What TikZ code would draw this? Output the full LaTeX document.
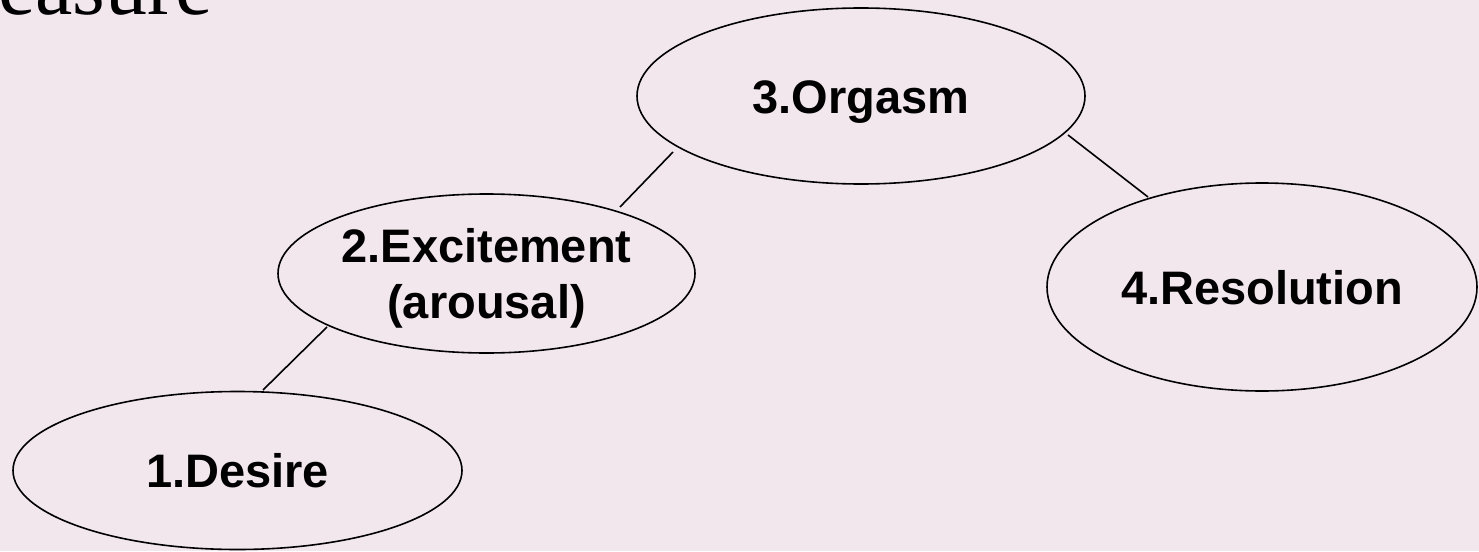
\documentclass[tikz,border=0pt]{standalone}
\usepackage{fontspec}
\setmainfont{Liberation Sans}
\newfontfamily\serifface{Liberation Serif}
\usetikzlibrary{shapes.geometric}
\definecolor{bgpink}{RGB}{243,231,238}
\begin{document}
\begin{tikzpicture}[x=1pt,y=-1pt,
  phase/.style={ellipse, draw=black, line width=1.6pt, inner sep=0pt,
    font=\bfseries\fontsize{47}{56}\selectfont, text height=34pt, text depth=0pt, align=center},
  link/.style={line width=1.6pt, draw=black}]
\fill[bgpink] (0,0) rectangle (1479,551);
\useasboundingbox (0,0) rectangle (1479,551);
\clip (0,0) rectangle (1479,551);
\node[font=\serifface\fontsize{84}{84}\selectfont, inner sep=0pt, anchor=base east] (title) at (213,15) {easure};
\node[phase, minimum width=448pt, minimum height=176pt] (orgasm) at (861,96) {3.Orgasm};
\node[phase, minimum width=417pt, minimum height=159pt, text height=90pt] (excite) at (486.5,273.5) {2.Excitement\\(arousal)};
\node[phase, minimum width=430pt, minimum height=208pt] (resol) at (1262,287) {4.Resolution};
\node[phase, minimum width=449pt, minimum height=158pt] (desire) at (237.5,470.5) {1.Desire};
\coordinate (oe1) at (673,152); \coordinate (oe2) at (620,207);
\coordinate (or1) at (1068,135); \coordinate (or2) at (1148,197);
\coordinate (ed1) at (327,327); \coordinate (ed2) at (263,390);
\draw[link] (oe1) -- (oe2);
\draw[link] (or1) -- (or2);
\draw[link] (ed1) -- (ed2);
\end{tikzpicture}
\end{document}
